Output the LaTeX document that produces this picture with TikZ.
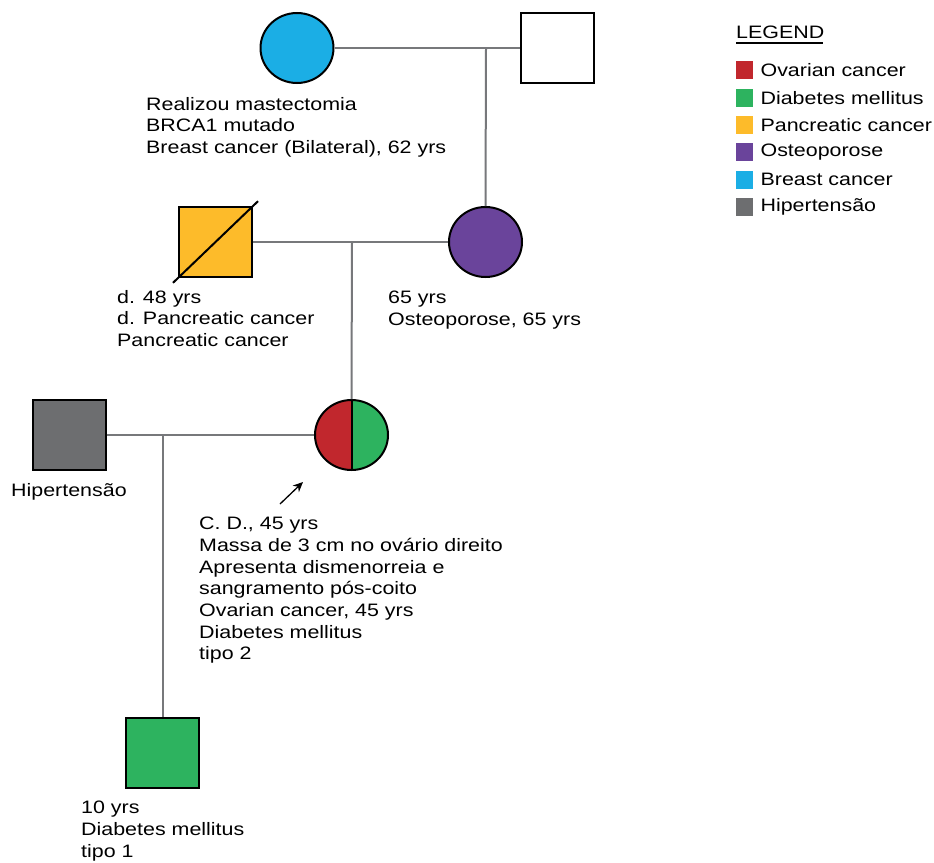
\documentclass[tikz,border=0pt]{standalone}
\usepackage{fontspec}
\setmainfont{Liberation Sans}[FakeStretch=1.19]
\usetikzlibrary{shapes.geometric,arrows.meta}
\definecolor{cred}{HTML}{C1272D}
\definecolor{cgreen}{HTML}{2DB35F}
\definecolor{cyellow}{HTML}{FDBB2A}
\definecolor{cpurple}{HTML}{6A449B}
\definecolor{cblue}{HTML}{1BAEE5}
\definecolor{cgray}{HTML}{6D6E70}
\definecolor{cline}{HTML}{77787B}
\tikzset{
  female/.style={ellipse,draw=black,line width=2pt,minimum width=73pt,minimum height=70pt,inner sep=0pt},
  male/.style={rectangle,draw=black,line width=2pt,minimum width=73pt,minimum height=70pt,inner sep=0pt},
  conn/.style={draw=cline,line width=2pt},
  lbl/.style={anchor=north west,inner sep=0pt,align=left,font=\fontsize{18}{21.7}\selectfont},
  legsq/.style={rectangle,minimum width=17pt,minimum height=18pt,inner sep=0pt,anchor=north west},
  legtx/.style={anchor=west,inner sep=0pt,font=\fontsize{18}{21.7}\selectfont}
}
\begin{document}
\begin{tikzpicture}[x=1pt,y=-1pt]
\useasboundingbox (0,0) rectangle (934,862);
% individuals
\node[female,fill=cblue] (gm) at (297,48) {};
\node[male,fill=white] (gf) at (557,48) {};
\node[male,fill=cyellow] (fa) at (215.5,242) {};
\node[female,fill=cpurple] (mo) at (485.5,242) {};
\node[male,fill=cgray] (hu) at (69,435) {};
\node[female,path picture={
  \fill[cred] (path picture bounding box.south west) rectangle (path picture bounding box.north);
  \fill[cgreen] (path picture bounding box.south) rectangle (path picture bounding box.north east);
  \draw[black,line width=2pt] (path picture bounding box.south) -- (path picture bounding box.north);
}] (pr) at (351.5,435) {};
\node[male,fill=cgreen] (so) at (162.5,753) {};
% deceased slash
\draw[black,line width=2pt,shorten <=-7pt,shorten >=-7pt] (fa.south west) -- (fa.north east);
% couple lines and descent
\draw[conn] (gm.east) -- (gf.west);
\coordinate (c1) at (486,48);
\draw[conn] (c1) -- (mo.north);
\draw[conn] (fa.east) -- (mo.west);
\coordinate (c2) at (352,242);
\draw[conn] (c2) -- (pr.north);
\draw[conn] (hu.east) -- (pr.west);
\coordinate (c3) at (163,435);
\draw[conn] (c3) -- (c3 |- so.north);
% proband arrow
\coordinate (a1) at (280,504);
\coordinate (a2) at (303,482);
\draw[black,line width=1.3pt,-{Stealth[length=10pt,width=9pt]}] (a1) -- (a2);
% labels
\node[lbl] (lgm) at (146,97) {Realizou mastectomia\\BRCA1 mutado\\Breast cancer (Bilateral), 62 yrs};
\node[lbl] (lfa) at (117,290) {d. 48 yrs\\d. Pancreatic cancer\\Pancreatic cancer};
\node[lbl] (lmo) at (388,291) {65 yrs\\Osteoporose, 65 yrs};
\node[lbl] (lhu) at (11,483) {Hipertensão};
\node[lbl] (lpr) at (199,517) {C. D., 45 yrs\\Massa de 3 cm no ovário direito\\Apresenta dismenorreia e\\sangramento pós-coito\\Ovarian cancer, 45 yrs\\Diabetes mellitus\\tipo 2};
\node[lbl] (lso) at (81,801) {10 yrs\\Diabetes mellitus\\tipo 1};
% legend
\node[lbl] (leg) at (736,26) {LEGEND};
\draw[black,line width=1.5pt] (736,43) -- (823,43);
\foreach \c/\t [count=\i from 0] in {cred/Ovarian cancer,cgreen/Diabetes mellitus,cyellow/Pancreatic cancer,cpurple/Osteoporose,cblue/Breast cancer,cgray/Hipertensão}{
  \node[legsq,fill=\c] (ls\i) at (736,{61+27.4*\i}) {};
  \node[legtx] (lt\i) at ([xshift=7pt]ls\i.east) {\t};
}
\end{tikzpicture}
\end{document}
